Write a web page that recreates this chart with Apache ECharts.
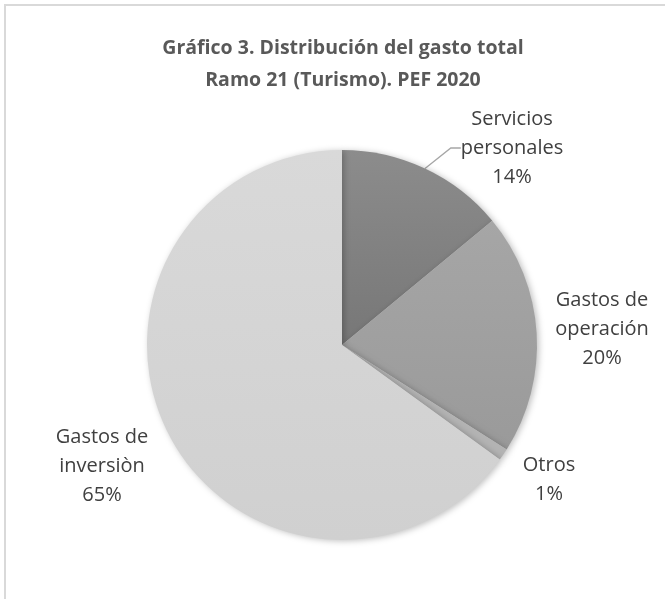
<!DOCTYPE html>
<html>
<head>
<meta charset="utf-8">
<script src="https://cdn.jsdelivr.net/npm/echarts@6/dist/echarts.min.js"></script>
<style>
html,body{margin:0;padding:0;background:#fff;}
#c{width:665px;height:599px;}
</style>
</head>
<body>
<div id="c"></div>
<script>
var titleLines = ['Gráfico 3. Distribución del gasto total', 'Ramo 21 (Turismo). PEF 2020'];
var categories = ['Servicios\npersonales', 'Gastos de\noperación', 'Otros', 'Gastos de\ninversiòn'];
var values = [14, 20, 1, 65];

var colors = [
  new echarts.graphic.LinearGradient(0, 0, 0, 1, [{offset: 0, color: '#8c8c8c'}, {offset: 1, color: '#777777'}]),
  new echarts.graphic.LinearGradient(0, 0, 0, 1, [{offset: 0, color: '#a6a6a6'}, {offset: 1, color: '#9a9a9a'}]),
  '#b3b3b3',
  new echarts.graphic.LinearGradient(0, 0, 0, 1, [{offset: 0, color: '#d9d9d9'}, {offset: 1, color: '#d0d0d0'}])
];
var labelPos = [[512, 148], [602, 329], [549, 480], [102, 466]];

var chart = echarts.init(document.getElementById('c'));
chart.setOption({
  backgroundColor: '#ffffff',
  animation: false,
  graphic: [{
    type: 'rect', shape: {x: 5, y: 5, width: 720, height: 720},
    style: {fill: 'none', stroke: '#d9d9d9', lineWidth: 2}, silent: true
  }],
  title: {
    text: titleLines.join('\n'),
    left: 338, top: 27, textAlign: 'center',
    textStyle: {fontFamily: 'Open Sans', fontWeight: 'bold', fontSize: 19.5, color: '#595959', lineHeight: 32}
  },
  series: [{
    type: 'pie',
    center: [342, 345],
    radius: ['0%', 195],
    startAngle: 90,
    clockwise: true,
    avoidLabelOverlap: false,
    itemStyle: {borderWidth: 0, shadowBlur: 6, shadowColor: 'rgba(0,0,0,0.25)', shadowOffsetX: 2, shadowOffsetY: 1},
    label: {
      show: true,
      position: 'outside',
      formatter: function (p) { return p.name + '\n' + Math.round(p.percent) + '%'; },
      fontFamily: 'Open Sans', fontSize: 20, color: '#404040', lineHeight: 29, align: 'center'
    },
    labelLine: {show: false},
    labelLayout: function (params) {
      var p = labelPos[params.dataIndex];
      return {x: p[0], y: p[1], align: 'center', verticalAlign: 'middle'};
    },
    data: categories.map(function (c, i) {
      var item = {name: c, value: values[i], itemStyle: {color: colors[i]}};
      if (i === 0) {
        item.labelLine = {show: true, length: 15, length2: 10, lineStyle: {color: '#a6a6a6', width: 1.3}};
      }
      return item;
    })
  }]
});
</script>
</body>
</html>
